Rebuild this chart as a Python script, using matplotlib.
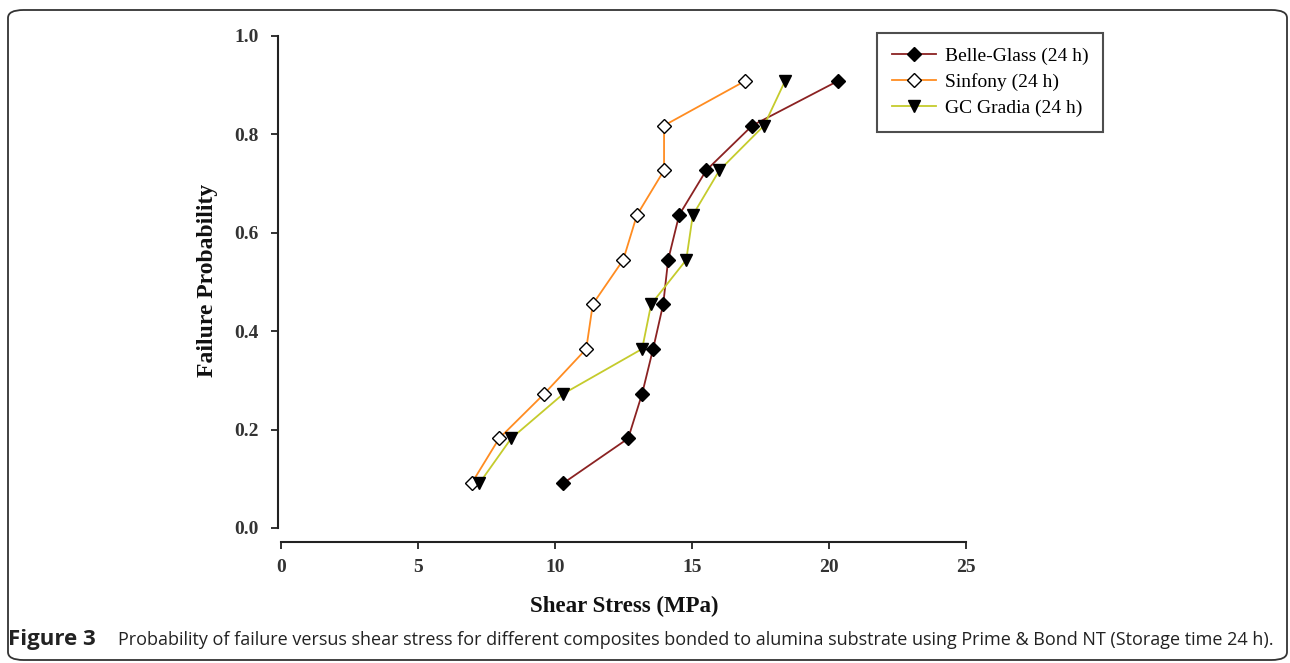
import matplotlib
matplotlib.use("Agg")
import matplotlib.pyplot as plt
from matplotlib.patches import FancyBboxPatch
import numpy as np

# failure probability ranks i/(n+1), n = 10
prob = [0.091, 0.182, 0.273, 0.364, 0.455, 0.545, 0.636, 0.727, 0.818, 0.909]

belle_glass = [10.30, 12.67, 13.18, 13.58, 13.95, 14.13, 14.53, 15.52, 17.20, 20.34]
sinfony = [6.96, 7.96, 9.61, 11.14, 11.38, 12.49, 12.99, 13.98, 13.98, 16.95]
gc_gradia = [7.24, 8.40, 10.31, 13.18, 13.51, 14.79, 15.03, 16.00, 17.63, 18.40]

x_ticks = [0, 5, 10, 15, 20, 25]
y_ticks = [0.0, 0.2, 0.4, 0.6, 0.8, 1.0]

W, H = 1290, 663
fig = plt.figure(figsize=(W / 100, H / 100), dpi=100)

# rounded outer frame
frame = FancyBboxPatch((8 / W, 3 / H), 1279 / W, 650 / H,
                       boxstyle="round,pad=0,rounding_size=0.012",
                       transform=fig.transFigure, facecolor='none',
                       edgecolor='#333333', linewidth=1.3)
fig.patches.append(frame)

ax = fig.add_axes([281 / W, (H - 528) / H, 685 / W, 492 / H])
ax.set_xlim(0, 25)
ax.set_ylim(0, 1.0)

ax.plot(belle_glass, prob, color='#8B2222', linewidth=1.3, marker='D',
        markersize=7, markerfacecolor='black', markeredgecolor='black',
        label='Belle-Glass (24 h)')
ax.plot(sinfony, prob, color='#FF8C21', linewidth=1.3, marker='D',
        markersize=7, markerfacecolor='white', markeredgecolor='black',
        markeredgewidth=1.0, label='Sinfony (24 h)')
ax.plot(gc_gradia, prob, color='#C5CB2C', linewidth=1.3, marker='v',
        markersize=9, markerfacecolor='black', markeredgecolor='black',
        label='GC Gradia (24 h)')

for s in ['top', 'right']:
    ax.spines[s].set_visible(False)
ax.spines['left'].set_position(('outward', 2))
ax.spines['bottom'].set_position(('outward', 10))
for s in ['left', 'bottom']:
    ax.spines[s].set_linewidth(1.5)
    ax.spines[s].set_color('#222222')

ax.set_xticks(x_ticks)
ax.set_yticks(y_ticks)
ax.set_yticklabels([f"{v:.1f}" for v in y_ticks])
ax.tick_params(axis='both', direction='out', length=5, width=1.3,
               color='#222222', labelsize=14, labelcolor='#333333')
ax.tick_params(axis='y', pad=9)
ax.tick_params(axis='x', pad=7)
for lab in ax.get_xticklabels() + ax.get_yticklabels():
    lab.set_family('Liberation Serif')
    lab.set_fontweight('bold')

fig.text(208 / W, 1 - 280 / H, 'Failure Probability', rotation=90,
         ha='center', va='center', fontsize=17, fontweight='bold',
         family='Liberation Serif', color='#111111')
fig.text(624 / W, 1 - 606 / H, 'Shear Stress (MPa)', ha='center',
         va='center', fontsize=16.5, fontweight='bold',
         family='Liberation Serif', color='#111111')

leg = ax.legend(loc='upper left', bbox_to_anchor=(877 / W, 1 - 33 / H),
                bbox_transform=fig.transFigure, frameon=True, fancybox=False,
                prop={'family': 'Liberation Serif', 'size': 14},
                handlelength=2.3, handletextpad=0.45, borderpad=0.75,
                labelspacing=0.42, borderaxespad=0)
leg.get_frame().set_edgecolor('#222222')
leg.get_frame().set_linewidth(1.5)

fig.text(8 / W, 1 - 640 / H, 'Figure 3', ha='left', va='center',
         fontsize=16, fontweight='bold', family='Open Sans', color='#222222')
fig.text(118 / W, 1 - 640 / H,
         'Probability of failure versus shear stress for different composites '
         'bonded to alumina substrate using Prime & Bond NT (Storage time 24 h).',
         ha='left', va='center', fontsize=13.0, family='Open Sans',
         color='#222222')

fig.savefig('out.png', dpi=100)
